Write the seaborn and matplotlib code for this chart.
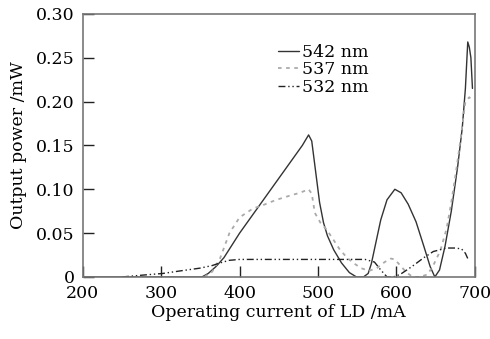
import matplotlib
matplotlib.use("Agg")
import matplotlib.pyplot as plt
import seaborn as sns
import pandas as pd

x_542 = [200, 300, 352, 360, 370, 380, 390, 400, 420, 440, 460, 480, 488, 492, 497, 502, 507, 512, 520, 530, 540, 549, 558, 564, 568, 574, 580, 588, 598, 606, 615, 625, 635, 643, 649, 655, 662, 670, 678, 684, 688, 691, 693, 695, 697]
y_542 = [0, 0, 0, 0.004, 0.012, 0.022, 0.036, 0.05, 0.075, 0.10, 0.125, 0.15, 0.162, 0.155, 0.12, 0.085, 0.062, 0.047, 0.031, 0.016, 0.005, 0, 0, 0.004, 0.015, 0.04, 0.065, 0.088, 0.10, 0.096, 0.083, 0.063, 0.035, 0.012, 0, 0.008, 0.035, 0.075, 0.125, 0.17, 0.215, 0.268, 0.262, 0.25, 0.215]

x_537 = [355, 365, 375, 387, 400, 417, 430, 447, 465, 477, 488, 492, 496, 503, 511, 520, 528, 537, 545, 555, 565, 575, 585, 593, 598, 605, 613, 621, 630, 640, 648, 656, 664, 670, 677, 683, 688, 693, 697]
y_537 = [0, 0.006, 0.021, 0.05, 0.068, 0.078, 0.082, 0.088, 0.093, 0.096, 0.10, 0.095, 0.073, 0.062, 0.054, 0.042, 0.031, 0.022, 0.016, 0.01, 0.007, 0.01, 0.017, 0.021, 0.02, 0.013, 0.005, 0, 0, 0.003, 0.015, 0.03, 0.055, 0.085, 0.126, 0.165, 0.2, 0.205, 0.2]

x_532 = [250, 275, 302, 325, 349, 365, 375, 387, 400, 440, 480, 520, 560, 572, 580, 588, 596, 605, 620, 635, 647, 664, 675, 683, 688, 692]
y_532 = [0, 0.002, 0.004, 0.007, 0.01, 0.013, 0.016, 0.019, 0.02, 0.02, 0.02, 0.02, 0.02, 0.017, 0.008, 0.0, 0.0, 0.003, 0.012, 0.022, 0.029, 0.033, 0.033, 0.032, 0.027, 0.019]

labels = ["542 nm", "537 nm", "532 nm"]
xticks = [200, 300, 400, 500, 600, 700]
yticks = [0, 0.05, 0.10, 0.15, 0.20, 0.25, 0.30]
yticklabels = ["0", "0.05", "0.10", "0.15", "0.20", "0.25", "0.30"]

sns.set_theme(style="white")
plt.rcParams['font.family'] = ['DejaVu Serif']
plt.rcParams['mathtext.fontset'] = 'dejavuserif'
plt.rcParams['text.color'] = 'black'
plt.rcParams['axes.labelcolor'] = 'black'
plt.rcParams['xtick.color'] = 'black'
plt.rcParams['ytick.color'] = 'black'

fig = plt.figure(figsize=(4.90, 3.39), dpi=100)
ax = fig.add_axes([0.169, 0.183, 0.800, 0.776])

df1 = pd.DataFrame({"x": x_542, "y": y_542})
df2 = pd.DataFrame({"x": x_537, "y": y_537})
df3 = pd.DataFrame({"x": x_532, "y": y_532})

sns.lineplot(data=df1, x="x", y="y", ax=ax, color="#333333", lw=1.0, sort=False, label=labels[0])
sns.lineplot(data=df2, x="x", y="y", ax=ax, color="#aaaaaa", lw=1.3, sort=False, label=labels[1], linestyle=(0, (2, 2.5)))
sns.lineplot(data=df3, x="x", y="y", ax=ax, color="#222222", lw=1.0, sort=False, label=labels[2], linestyle=(0, (5, 2, 1, 2, 1, 2)))

ax.set_xlim(200, 700)
ax.set_ylim(0, 0.30)
ax.set_xticks(xticks)
ax.set_yticks(yticks)
ax.set_yticklabels(yticklabels)
ax.tick_params(bottom=True, left=True, direction="in", length=8, width=1.0, color="#222222",
               labelsize=12.5, labelcolor="black", pad=6)
ax.set_xlabel("Operating current of LD /mA", fontsize=12.5, labelpad=1, color="black")
ax.set_ylabel("Output power /mW", fontsize=12.5, labelpad=6, color="black")
for s in ax.spines.values():
    s.set_color("#777777")
    s.set_linewidth(1.2)

leg = ax.legend(loc="upper left", bbox_to_anchor=(0.475, 0.92), frameon=False, fontsize=12.5,
                handlelength=1.2, handletextpad=0.2, labelspacing=0.05, borderpad=0)
for t in leg.get_texts():
    t.set_color("black")

fig.savefig("out.png", dpi=100)
